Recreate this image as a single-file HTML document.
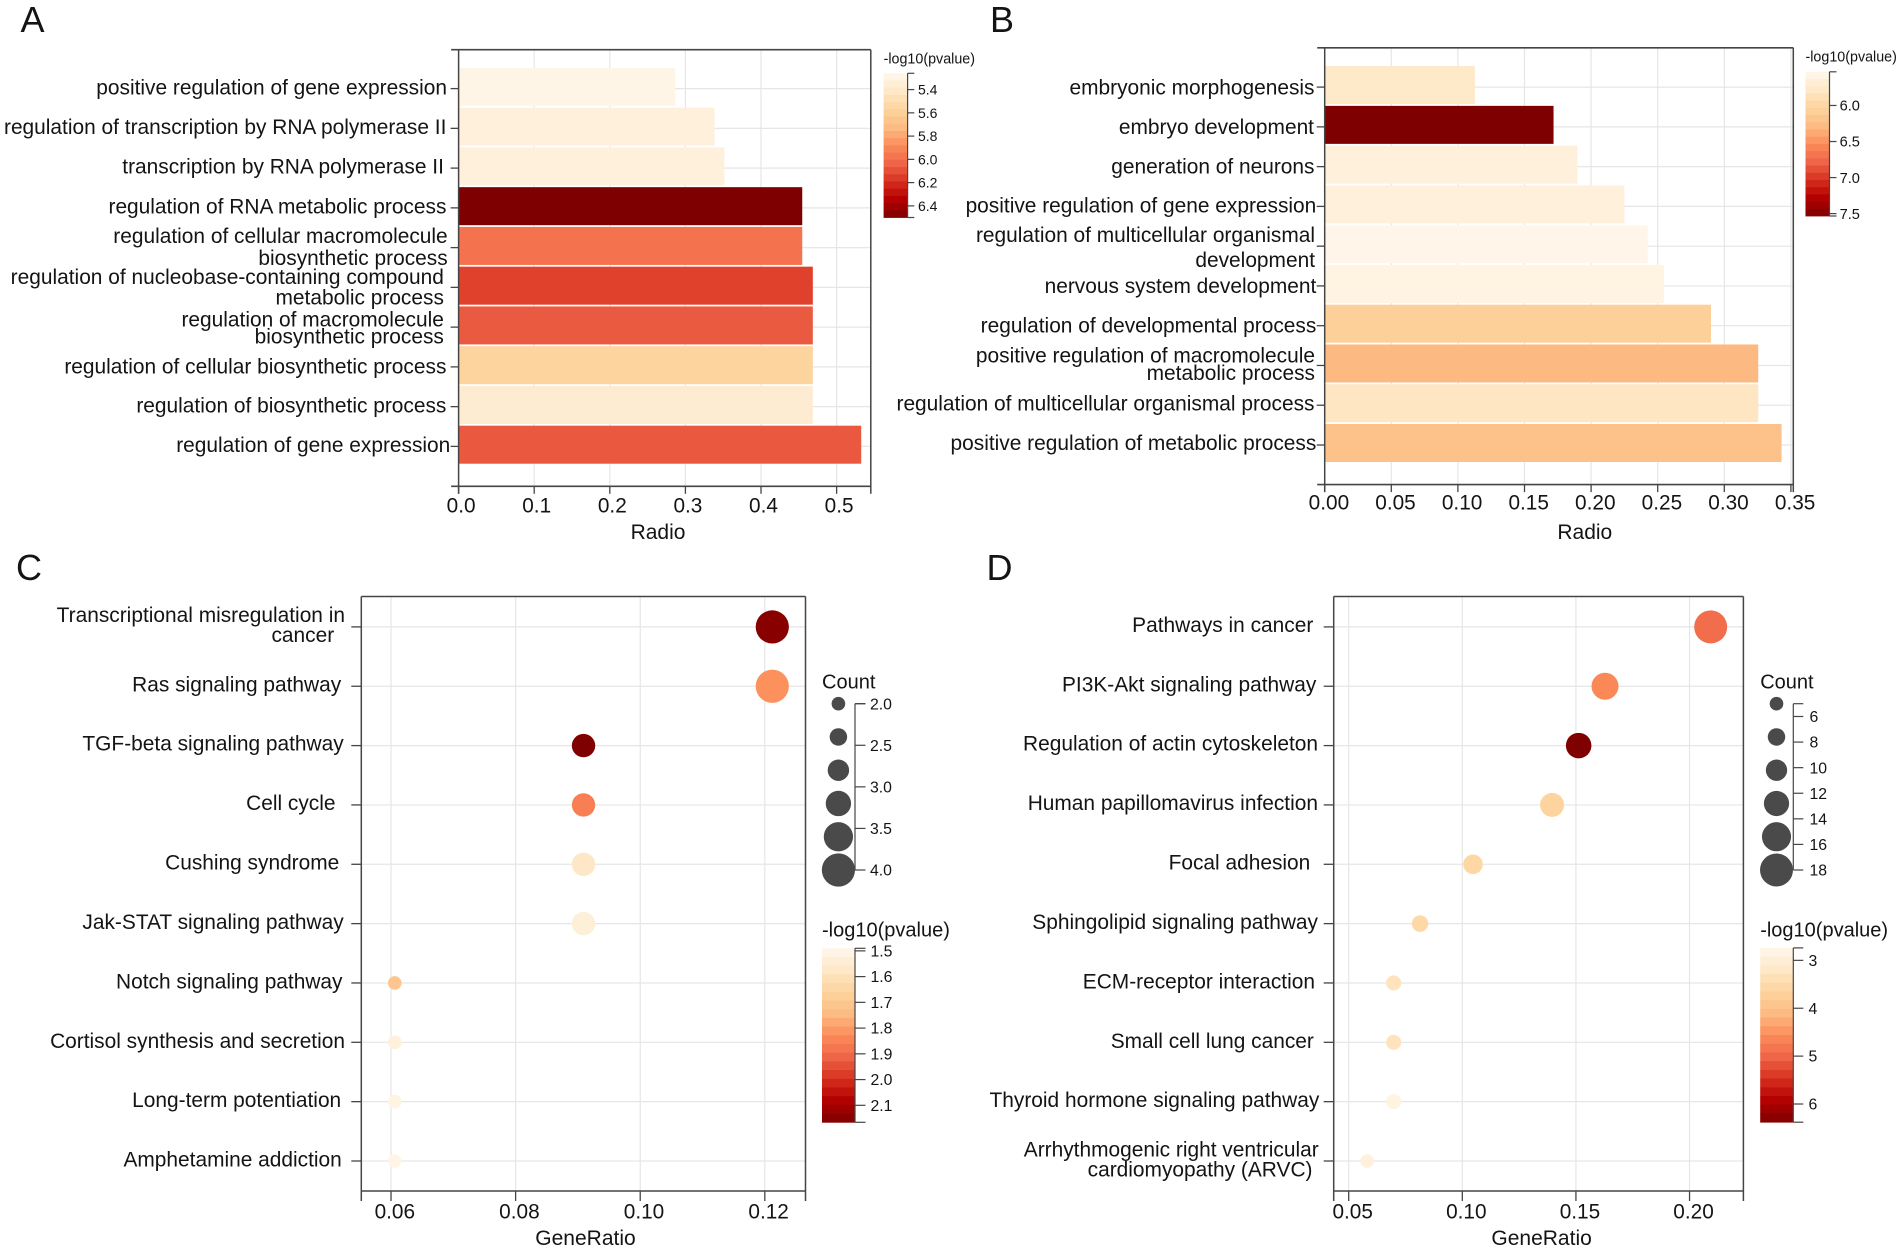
<!DOCTYPE html>
<html lang="en">
<head>
<meta charset="utf-8">
<title>Enrichment analysis panels A-D</title>
<style>
html,body{margin:0;padding:0;background:#fff;width:1902px;height:1251px;overflow:hidden}
svg{display:block}
text{font-family:"Liberation Sans",Arial,sans-serif;fill:#141414}
</style>
</head>
<body>
<svg id="figure" xmlns="http://www.w3.org/2000/svg" width="1902" height="1251" viewBox="0 0 1902 1251">
<rect x="0" y="0" width="1902" height="1251" fill="#ffffff"/>
<text x="20.5" y="32" font-size="36">A</text>
<text x="990" y="32" font-size="36">B</text>
<text x="16" y="580" font-size="36">C</text>
<text x="986.5" y="580" font-size="36">D</text>
</svg>
<script>
// ---------- Panel A data ----------
const aCategories = ["positive regulation of gene expression","regulation of transcription by RNA polymerase II","transcription by RNA polymerase II","regulation of RNA metabolic process","regulation of cellular macromolecule\nbiosynthetic process","regulation of nucleobase-containing compound\nmetabolic process","regulation of macromolecule\nbiosynthetic process","regulation of cellular biosynthetic process","regulation of biosynthetic process","regulation of gene expression"];
const aRadio = [0.286,0.338,0.351,0.454,0.454,0.468,0.468,0.468,0.468,0.532];
const aLogP = [5.285,5.33,5.335,6.5,5.98,6.14,6.067,5.57,5.374,6.07];
const aXTicks = [0,0.1,0.2,0.3,0.4,0.5];
const aXTickLabels = ["0.0","0.1","0.2","0.3","0.4","0.5"];
const aColorTicks = [5.4,5.6,5.8,6.0,6.2,6.4];
const aColorTickLabels = ["5.4","5.6","5.8","6.0","6.2","6.4"];

// ---------- Panel B data ----------
const bCategories = ["embryonic morphogenesis","embryo development","generation of neurons","positive regulation of gene expression","regulation of multicellular organismal\ndevelopment","nervous system development","regulation of developmental process","positive regulation of macromolecule\nmetabolic process","regulation of multicellular organismal process","positive regulation of metabolic process"];
const bRadio = [0.1127,0.1718,0.1898,0.225,0.2426,0.2547,0.29,0.3255,0.3255,0.343];
const bLogP = [5.773,7.533,5.65,5.653,5.553,5.6,6.07,6.293,5.813,6.223];
const bXTicks = [0,0.05,0.1,0.15,0.2,0.25,0.3,0.35];
const bXTickLabels = ["0.00","0.05","0.10","0.15","0.20","0.25","0.30","0.35"];
const bColorTicks = [6,6.5,7,7.5];
const bColorTickLabels = ["6.0","6.5","7.0","7.5"];

// ---------- Panel C data ----------
const cCategories = ["Transcriptional misregulation in\ncancer","Ras signaling pathway","TGF-beta signaling pathway","Cell cycle","Cushing syndrome","Jak-STAT signaling pathway","Notch signaling pathway","Cortisol synthesis and secretion","Long-term potentiation","Amphetamine addiction"];
const cGeneRatio = [0.1212,0.1212,0.0909,0.0909,0.0909,0.0909,0.0606,0.0606,0.0606,0.0606];
const cCount = [4,4,3,3,3,3,2,2,2,2];
const cLogP = [2.152,1.82,2.166,1.858,1.578,1.537,1.706,1.527,1.514,1.504];
const cXTicks = [0.06,0.08,0.1,0.12];
const cXTickLabels = ["0.06","0.08","0.10","0.12"];
const cSizeKeys = [2,2.4,2.8,3.2,3.6,4];
const cSizeTicks = [2,2.5,3,3.5,4];
const cSizeTickLabels = ["2.0","2.5","3.0","3.5","4.0"];
const cColorTicks = [1.5,1.6,1.7,1.8,1.9,2.0,2.1];
const cColorTickLabels = ["1.5","1.6","1.7","1.8","1.9","2.0","2.1"];

// ---------- Panel D data ----------
const dCategories = ["Pathways in cancer","PI3K-Akt signaling pathway","Regulation of actin cytoskeleton","Human papillomavirus infection","Focal adhesion","Sphingolipid signaling pathway","ECM-receptor interaction","Small cell lung cancer","Thyroid hormone signaling pathway","Arrhythmogenic right ventricular\ncardiomyopathy (ARVC)"];
const dGeneRatio = [0.2093,0.1628,0.1512,0.1395,0.1047,0.0814,0.0698,0.0698,0.0698,0.0581];
const dCount = [18,14,13,12,9,7,6,6,6,5];
const dLogP = [4.92,4.6,6.38,3.65,3.58,3.54,3.32,3.32,2.87,2.92];
const dXTicks = [0.05,0.1,0.15,0.2];
const dXTickLabels = ["0.05","0.10","0.15","0.20"];
const dSizeKeys = [5,7.6,10.2,12.8,15.4,18];
const dSizeTicks = [6,8,10,12,14,16,18];
const dSizeTickLabels = ["6","8","10","12","14","16","18"];
const dColorTicks = [3,4,5,6];
const dColorTickLabels = ["3","4","5","6"];

// ---------- Colour ramp ----------
const ramp = [[255,247,236],[254,232,200],[253,212,158],[253,187,132],[252,141,89],[239,101,72],[215,48,31],[179,0,0],[127,0,0]];
function colorAt(v, lo, hi) {
  let t = (v - lo) / (hi - lo);
  t = Math.max(0, Math.min(1, t)) * (ramp.length - 1);
  const i = Math.min(ramp.length - 2, Math.floor(t));
  const f = t - i;
  const c = ramp[i].map((a, k) => Math.round(a + (ramp[i + 1][k] - a) * f));
  return "rgb(" + c.join(",") + ")";
}

// ---------- SVG helpers ----------
const svg = document.getElementById("figure");
const NS = "http://www.w3.org/2000/svg";
const AXIS = "#454545";
const GRID = "#e6e6e6";
function mk(tag, attrs, parent) {
  const el = document.createElementNS(NS, tag);
  for (const k in attrs) el.setAttribute(k, attrs[k]);
  parent.appendChild(el);
  return el;
}
function line(parent, x1, y1, x2, y2, stroke, w) {
  return mk("line", {x1: x1, y1: y1, x2: x2, y2: y2, stroke: stroke, "stroke-width": w}, parent);
}
function label(parent, x, y, str, size, anchor) {
  const t = mk("text", {x: x, y: y, "font-size": size, "text-anchor": anchor || "start"}, parent);
  t.textContent = str;
  return t;
}
function linear(d0, d1, r0, r1) {
  return function (v) { return r0 + (v - d0) * (r1 - r0) / (d1 - d0); };
}
function slug(s) {
  return s.toLowerCase().replace(/[^a-z0-9]+/g, "-").replace(/^-|-$/g, "");
}

// Shared frame: grid, axes, ticks, category labels
function drawFrame(g, p, categories, xTicks, xTickLabels) {
  const x = linear(p.xDomain[0], p.xDomain[1], p.left, p.right);
  const y = function (i) { return p.rowFirst + i * (p.rowLast - p.rowFirst) / (categories.length - 1); };

  const grid = mk("g", {}, g);
  
  
  xTicks.forEach(function (v) { line(grid, x(v), p.top, x(v), p.bottom, GRID, 1.2); });
  categories.forEach(function (c, i) { line(grid, p.left, y(i), p.right, y(i), GRID, 1.2); });

  return {x: x, y: y, finish: function () {
    const axes = mk("g", {}, g);
    
    
    line(axes, p.left - p.corner, p.top, p.right, p.top, AXIS, 1.6);
    line(axes, p.left - p.corner, p.bottom, p.right, p.bottom, AXIS, 1.6);
    line(axes, p.left, p.top, p.left, p.bottom + p.endTick, AXIS, 1.5);
    line(axes, p.right, p.top, p.right, p.bottom + p.endTick, AXIS, 1.5);

    xTicks.forEach(function (v, i) {
      line(axes, x(v), p.bottom, x(v), p.bottom + p.endTick, AXIS, 1.3);
      const t = label(axes, x(v) + p.xLabelShift, p.xLabelBase, xTickLabels[i], 20.8, "middle");
      
      
    });

    categories.forEach(function (c, i) {
      line(axes, p.left - p.yTick, y(i), p.left, y(i), AXIS, 1.3);
      const lay = p.labelLayout[i];
      c.split("\n").forEach(function (part, j) {
        const right = (j === 1 && lay[3]) ? lay[3] : lay[0];
        const t = label(axes, right, lay[j + 1] + p.labelShift, part, 20.9, "end");
        
        
      });
    });

    const xt = label(axes, p.xTitleX, p.xTitleBase, p.xTitle, 21, "middle");
    
    
  }};
}

// Colour legend
function drawColorbar(g, c, ticks, tickLabels) {
  const leg = mk("g", {}, g);
  
  
  const title = label(leg, c.x0, c.titleBase, "-log10(pvalue)", c.titleSize);
  
  
  const bands = 20;
  const h = (c.bottom - c.top) / bands;
  for (let i = 0; i < bands; i++) {
    const v = c.lo + (i + 0.5) * (c.hi - c.lo) / bands;
    const r = mk("rect", {x: c.x0, y: c.top + i * h, width: c.x1 - c.x0, height: h + 0.4, fill: colorAt(v, c.lo, c.hi)}, leg);
    
    
  }
  const py = linear(c.lo, c.hi, c.top, c.bottom);
  line(leg, c.x1, c.top, c.x1, c.bottom, AXIS, 1.2);
  line(leg, c.x1, c.top, c.tickEnd, c.top, AXIS, 1.2);
  line(leg, c.x1, c.bottom, c.tickEnd, c.bottom, AXIS, 1.2);
  ticks.forEach(function (v, i) {
    line(leg, c.x1, py(v), c.tickEnd, py(v), AXIS, 1.2);
    const t = label(leg, c.labelX, py(v) + c.labelDy, tickLabels[i], c.labelSize);
    
    
  });
}

// Count legend
function drawSizeLegend(g, s, keys, ticks, tickLabels, radius) {
  const leg = mk("g", {}, g);
  
  
  const title = label(leg, s.titleX, 688.3, "Count", 20);
  
  
  const py = linear(keys[0], keys[keys.length - 1], 703.7, 870);
  keys.forEach(function (k, i) {
    const yPos = 703.7 + i * (870 - 703.7) / (keys.length - 1);
    const dot = mk("circle", {cx: s.cx, cy: yPos, r: radius(k), fill: "#4a4a4a"}, leg);
    
    
  });
  line(leg, s.axisX, 703.7, s.axisX, 870, AXIS, 1.2);
  line(leg, s.axisX, 703.7, s.tickEnd, 703.7, AXIS, 1.2);
  ticks.forEach(function (v, i) {
    line(leg, s.axisX, py(v), s.tickEnd, py(v), AXIS, 1.2);
    const t = label(leg, s.labelX, py(v) + 5.6, tickLabels[i], 15.8);
    
    
  });
}

// ---------- Panel A ----------
const gA = mk("g", {}, svg);


const aFrame = drawFrame(gA, {
  left: 458.6, right: 870.8, top: 49.7, bottom: 486.3, xDomain: [0, 0.5452],
  rowFirst: 88.6, rowLast: 446.4, yTick: 8, corner: 7.5, endTick: 7.5, labelShift: 0.9, xLabelShift: 2.5, xLabelBase: 512.5,
  xTitle: "Radio", xTitleX: 658, xTitleBase: 539,
  labelLayout: [[447,93.6],[446.4,132.9],[443.9,172.5],[446.4,212.5],[447.7,242,264.3],[443.9,282.9,303.6],[443.9,325.4,342.5],[446.4,372.5],[446.4,411.4],[450.3,451]]
}, aCategories, aXTicks, aXTickLabels);
aCategories.forEach(function (c, i) {
  const b = mk("rect", {x: aFrame.x(0) + 0.4, y: aFrame.y(i) - 20.7, width: aFrame.x(aRadio[i]) - aFrame.x(0), height: 38, fill: colorAt(aLogP[i], 5.26, 6.5)}, gA);
  
  
});
aFrame.finish();
drawColorbar(gA, {x0: 883.6, x1: 907.6, top: 73.3, bottom: 217.5, lo: 5.26, hi: 6.5, tickEnd: 914.3, labelX: 918, labelDy: 5, labelSize: 14, titleBase: 63.3, titleSize: 14.3}, aColorTicks, aColorTickLabels);

// ---------- Panel B ----------
const gB = mk("g", {}, svg);


const bFrame = drawFrame(gB, {
  left: 1324.7, right: 1793.3, top: 47.8, bottom: 484.6, xDomain: [0, 0.3518],
  rowFirst: 87.1, rowLast: 445, yTick: 8, corner: 7.5, endTick: 7.5, labelShift: 0.9, xLabelShift: 4.2, xLabelBase: 509.6,
  xTitle: "Radio", xTitleX: 1584.8, xTitleBase: 539,
  labelLayout: [[1314.5,93.6],[1314,132.9],[1314.5,172.5],[1316.3,211.4],[1315,241,266],[1316.3,292],[1316.3,331.4],[1315,361.8,379.3],[1314.5,409.6],[1316.3,449.3]]
}, bCategories, bXTicks, bXTickLabels);
bCategories.forEach(function (c, i) {
  const b = mk("rect", {x: bFrame.x(0), y: bFrame.y(i) - 21, width: bFrame.x(bRadio[i]) - bFrame.x(0), height: 38, fill: colorAt(bLogP[i], 5.533, 7.533)}, gB);
  
  
});
bFrame.finish();
drawColorbar(gB, {x0: 1805.5, x1: 1829.5, top: 71.8, bottom: 216, lo: 5.533, hi: 7.533, tickEnd: 1836.5, labelX: 1839.6, labelDy: 5.2, labelSize: 14.6, titleBase: 61.5, titleSize: 14.3}, bColorTicks, bColorTickLabels);

// ---------- Panel C ----------
const gC = mk("g", {}, svg);


const cFrame = drawFrame(gC, {
  left: 361.3, right: 805.5, top: 596.5, bottom: 1191, xDomain: [0.05523, 0.12653],
  rowFirst: 626.9, rowLast: 1161, yTick: 10, corner: 0, endTick: 10, labelShift: 0, xLabelShift: 3.8, xLabelBase: 1218.3,
  xTitle: "GeneRatio", xTitleX: 585.5, xTitleBase: 1245,
  labelLayout: [[345,622,642,334.2],[341.2,691.3],[343.7,750.6],[335.5,810],[339.3,869.5],[343.7,929],[342.5,988.4],[345,1047.8],[341.2,1107],[341.8,1166.3]]
}, cCategories, cXTicks, cXTickLabels);
const cRadius = linear(2, 4, 6.8, 16.6);
cCategories.forEach(function (c, i) {
  const d = mk("circle", {cx: cFrame.x(cGeneRatio[i]), cy: cFrame.y(i), r: cRadius(cCount[i]), fill: colorAt(cLogP[i], 1.49, 2.166)}, gC);
  
  
});
cFrame.finish();
drawSizeLegend(gC, {titleX: 822, cx: 838.4, axisX: 855, tickEnd: 865.5, labelX: 870}, cSizeKeys, cSizeTicks, cSizeTickLabels, cRadius);
drawColorbar(gC, {x0: 822, x1: 855, top: 948.3, bottom: 1122.3, lo: 1.49, hi: 2.166, tickEnd: 865.5, labelX: 870.5, labelDy: 5.6, labelSize: 15.8, titleBase: 936.7, titleSize: 20}, cColorTicks, cColorTickLabels);

// ---------- Panel D ----------
const gD = mk("g", {}, svg);


const dFrame = drawFrame(gD, {
  left: 1333.7, right: 1743.4, top: 596.5, bottom: 1191, xDomain: [0.0434, 0.2237],
  rowFirst: 626.9, rowLast: 1161, yTick: 10, corner: 0, endTick: 10, labelShift: 0, xLabelShift: 4, xLabelBase: 1218.3,
  xTitle: "GeneRatio", xTitleX: 1541.6, xTitleBase: 1245,
  labelLayout: [[1313.3,632],[1316.3,691.3],[1318,750.6],[1318,810],[1310.3,869.5],[1318,929],[1315,988.4],[1313.9,1047.8],[1319.3,1107],[1318.7,1156.6,1176.7,1312.5]]
}, dCategories, dXTicks, dXTickLabels);
const dRadius = linear(5, 18, 6.8, 16.5);
dCategories.forEach(function (c, i) {
  const d = mk("circle", {cx: dFrame.x(dGeneRatio[i]), cy: dFrame.y(i), r: dRadius(dCount[i]), fill: colorAt(dLogP[i], 2.74, 6.38)}, gD);
  
  
});
dFrame.finish();
drawSizeLegend(gD, {titleX: 1760.2, cx: 1776.5, axisX: 1793.3, tickEnd: 1803.3, labelX: 1809.5}, dSizeKeys, dSizeTicks, dSizeTickLabels, dRadius);
drawColorbar(gD, {x0: 1760.2, x1: 1793.3, top: 947.9, bottom: 1122.2, lo: 2.74, hi: 6.38, tickEnd: 1803.3, labelX: 1808.5, labelDy: 5.6, labelSize: 15.8, titleBase: 936.7, titleSize: 20}, dColorTicks, dColorTickLabels);
</script>
</body>
</html>
